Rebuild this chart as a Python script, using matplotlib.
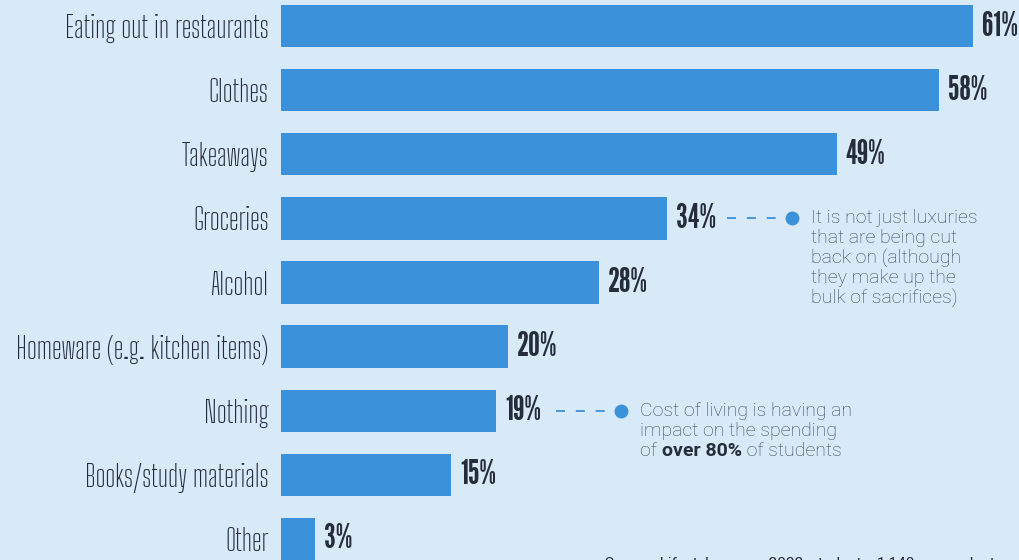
import matplotlib
matplotlib.use("Agg")
import matplotlib.pyplot as plt

# data
categories = [
    "Eating out in restaurants",
    "Clothes",
    "Takeaways",
    "Groceries",
    "Alcohol",
    "Homeware (e.g. kitchen items)",
    "Nothing",
    "Books/study materials",
    "Other",
]
values = [61, 58, 49, 34, 28, 20, 19, 15, 3]
value_labels = ["61%", "58%", "49%", "34%", "28%", "20%", "19%", "15%", "3%"]

BG = "#d8e9f7"
BAR = "#3b91da"
DARK = "#262d3a"
NOTE = "#3d4452"

LABEL_FONT = ["Big Shoulders Text", "DejaVu Sans"]
VALUE_FONT = ["League Gothic", "DejaVu Sans"]
NOTE_FONT = ["Roboto", "DejaVu Sans"]

fig = plt.figure(figsize=(10.2, 5.6), dpi=100, facecolor=BG)
ax = fig.add_axes([281 / 1020, 0, 739 / 1020, 1])
ax.set_facecolor(BG)

pos = list(range(len(categories)))
ax.barh(pos, values, height=0.66, color=BAR)
ax.set_xlim(0, 739 / 11.34)
ax.set_ylim(8 + 21 / 64.1, -26 / 64.1)

ax.set_yticks(pos)
ax.set_yticklabels(categories, family=LABEL_FONT, fontsize=21, color=DARK)
ax.tick_params(axis="y", length=0, pad=9)
ax.set_xticks([])
for s in ax.spines.values():
    s.set_visible(False)

px = 1 / 11.34  # data units per pixel
for i, (v, lab) in enumerate(zip(values, value_labels)):
    ax.text(v + 9 * px, i, lab, ha="left", va="center", family=VALUE_FONT,
            fontsize=24, color=DARK)

# annotations
NOTE_SIZE = 14
notes = {
    3: ["It is not just luxuries", "that are being cut", "back on (although",
        "they make up the", "bulk of sacrifices)"],
    6: ["Cost of living is having an", "impact on the spending"],
}
for i, lines in notes.items():
    v = values[i]
    ax.plot([v + 60 * px, v + 114 * px], [i, i], color=BAR, lw=1.3,
            linestyle=(0, (5, 6)))
    ax.plot([v + 125 * px], [i], "o", color=BAR, ms=9)
    tx = v + 144 * px
    for k, line in enumerate(lines):
        ax.text(tx, i + k * 20 / 64.1, line, ha="left", va="center",
                family=NOTE_FONT, fontsize=NOTE_SIZE, color=NOTE, fontweight="light")

# last line with bold part
i = 6
tx = values[i] + 144 * px
t1 = ax.text(tx, i + 2 * 20 / 64.1, "of ", ha="left", va="center",
             family=NOTE_FONT, fontsize=NOTE_SIZE, color=NOTE, fontweight="light")
t2 = ax.annotate("over 80%", xy=(1, 0), xycoords=t1, xytext=(0, 0),
                 textcoords="offset points", ha="left", va="bottom",
                 family=NOTE_FONT, fontsize=NOTE_SIZE, color=DARK, fontweight="bold")
ax.annotate(" of students", xy=(1, 0), xycoords=t2, xytext=(0, 0),
            textcoords="offset points", ha="left", va="bottom",
            family=NOTE_FONT, fontsize=NOTE_SIZE, color=NOTE, fontweight="light")

# source line, cut off at the bottom edge
fig.text(605 / 1020, 1 - 557 / 560, "Source: Lifestyle survey 2022, students: 1,140 respondents",
         ha="left", va="top", family=NOTE_FONT, fontsize=11, color=DARK)

fig.savefig("out.png", dpi=100, facecolor=BG)
